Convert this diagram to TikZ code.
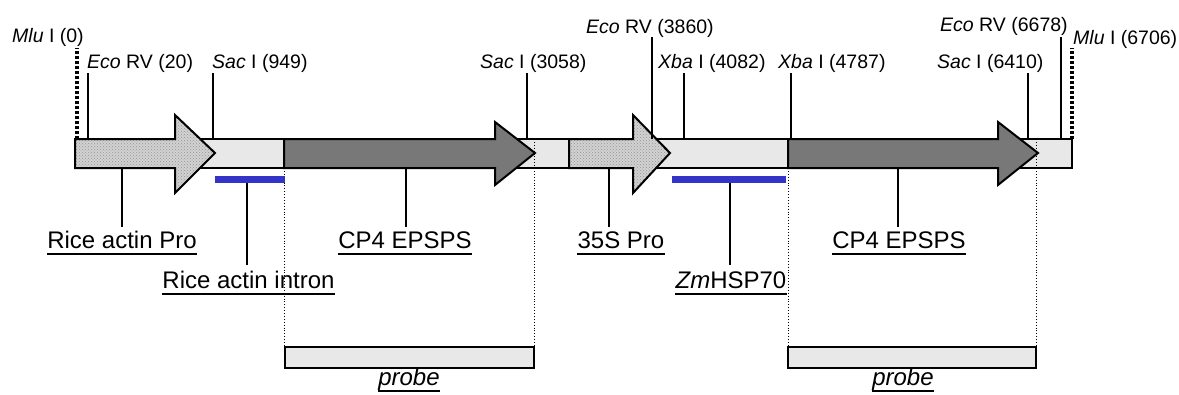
\documentclass[tikz,border=0pt]{standalone}
\usepackage{fontspec}
\setmainfont{Liberation Sans}
\usetikzlibrary{patterns}
\definecolor{barfill}{HTML}{E8E8E8}
\definecolor{darkfill}{HTML}{787878}
\definecolor{stipfill}{HTML}{D2D2D2}
\definecolor{probeblue}{HTML}{3434C8}
\begin{document}
\begin{tikzpicture}[x=1pt,y=-1pt,
  site/.style={anchor=base west, inner sep=0pt, font=\fontsize{19.5}{22}\selectfont},
  feat/.style={anchor=base, inner sep=0pt, font=\fontsize{24}{28}\selectfont},
  tickline/.style={line width=1.5pt},
  outline/.style={draw=black, line width=2pt, line join=miter},
  guide/.style={dotted, line width=0.9pt},
  mludash/.style={line width=4pt, dash pattern=on 3pt off 2pt},
  ul/.style={line width=2pt},
  stip/.style={outline, preaction={fill=stipfill}, pattern=crosshatch dots, pattern color=gray!85},
  dark/.style={outline, fill=darkfill},
  blueseg/.style={fill=probeblue},
  probebox/.style={draw=black, line width=1.6pt, fill=barfill}]
\useasboundingbox (0,0) rectangle (1179,394);
\fill[white] (0,0) rectangle (1179,394);

% backbone
\draw[outline, fill=barfill] (75,139) rectangle (1072,168);

% guide lines (dotted) down to probes
\coordinate (g1t) at (284,168); \coordinate (g1b) at (284,347);
\coordinate (g2t) at (534,139); \coordinate (g2b) at (534,347);
\coordinate (g3t) at (788,168); \coordinate (g3b) at (788,347);
\coordinate (g4t) at (1036,139); \coordinate (g4b) at (1036,347);
\draw[guide] (g1t) -- (g1b);
\draw[guide] (g2t) -- (g2b);
\draw[guide] (g3t) -- (g3b);
\draw[guide] (g4t) -- (g4b);

% arrows
\draw[stip] (75,139) -- (175,139) -- (175,115) -- (215,153) -- (175,193) -- (175,168) -- (75,168) -- cycle;
\draw[dark] (284,139) -- (495,139) -- (495,122) -- (535,153) -- (495,185) -- (495,168) -- (284,168) -- cycle;
\draw[stip] (569,139) -- (633,139) -- (633,115) -- (670,153) -- (633,193) -- (633,168) -- (569,168) -- cycle;
\draw[dark] (788,139) -- (998,139) -- (998,122) -- (1038,153) -- (998,185) -- (998,168) -- (788,168) -- cycle;

% blue segments
\fill[blueseg] (215,176) rectangle (285,183);
\fill[blueseg] (672,176) rectangle (786,183);

% restriction sites
\coordinate (mluAt) at (77,48);   \coordinate (mluAb) at (77,139);
\coordinate (mluBt) at (1072,48); \coordinate (mluBb) at (1072,139);
\draw[mludash] (mluAb) -- (mluAt);
\draw[mludash] (mluBb) -- (mluBt);

\coordinate (e1t) at (88,73);    \coordinate (e1b) at (88,139);
\coordinate (s1t) at (213,73);   \coordinate (s1b) at (213,139);
\coordinate (s2t) at (527,73);   \coordinate (s2b) at (527,139);
\coordinate (e2t) at (652,37);   \coordinate (e2b) at (652,139);
\coordinate (x1t) at (684,73);   \coordinate (x1b) at (684,139);
\coordinate (x2t) at (791,73);   \coordinate (x2b) at (791,139);
\coordinate (s3t) at (1028,73);  \coordinate (s3b) at (1028,139);
\coordinate (e3t) at (1061,37);  \coordinate (e3b) at (1061,139);
\foreach \c in {e1,s1,s2,e2,x1,x2,s3,e3} { \draw[tickline] (\c t) -- (\c b); }

\node[site] (lmlu1) at (12,42) {\textit{Mlu} I (0)};
\node[site] (leco1) at (87,68) {\textit{Eco} RV (20)};
\node[site] (lsac1) at (212,68) {\textit{Sac} I (949)};
\node[site] (lsac2) at (480,68) {\textit{Sac} I (3058)};
\node[site] (leco2) at (586,33) {\textit{Eco} RV (3860)};
\node[site] (lxba1) at (658,68) {\textit{Xba} I (4082)};
\node[site] (lxba2) at (778,68) {\textit{Xba} I (4787)};
\node[site] (lsac3) at (937,68) {\textit{Sac} I (6410)};
\node[site] (leco3) at (940,31) {\textit{Eco} RV (6678)};
\node[site] (lmlu2) at (1073,44) {\textit{Mlu} I (6706)};

% feature labels
\node[feat] (fpro)  at (122,248) {Rice actin Pro};
\node[feat] (fint)  at (248.5,288) {Rice actin intron};
\node[feat] (fcp1)  at (405,248) {CP4 EPSPS};
\node[feat] (f35s)  at (621,248) {35S Pro};
\node[feat] (fhsp)  at (731,288) {\textit{Zm}HSP70};
\node[feat] (fcp2)  at (899,248) {CP4 EPSPS};
\node[feat] (fpb1)  at (409,385) {\textit{probe}};
\node[feat] (fpb2)  at (903,385) {\textit{probe}};
\foreach \n in {fpro,fint,fcp1,f35s,fhsp,fcp2,fpb1,fpb2} {
  \draw[ul] ([yshift=-5.5pt]\n.base west) -- ([yshift=-5.5pt]\n.base east);
}

% leaders
\coordinate (a1) at (122,168); \coordinate (a1e) at (122,227);
\coordinate (a2) at (247,183); \coordinate (a2e) at (247,265);
\coordinate (a3) at (406,168); \coordinate (a3e) at (406,227);
\coordinate (a4) at (609,168); \coordinate (a4e) at (609,227);
\coordinate (a5) at (730,183); \coordinate (a5e) at (730,265);
\coordinate (a6) at (898,168); \coordinate (a6e) at (898,227);
\foreach \c in {a1,a2,a3,a4,a5,a6} { \draw[tickline] (\c) -- (\c e); }

% probes
\draw[probebox] (285,347) rectangle (534,368);
\draw[probebox] (788,347) rectangle (1036,368);
\end{tikzpicture}
\end{document}
